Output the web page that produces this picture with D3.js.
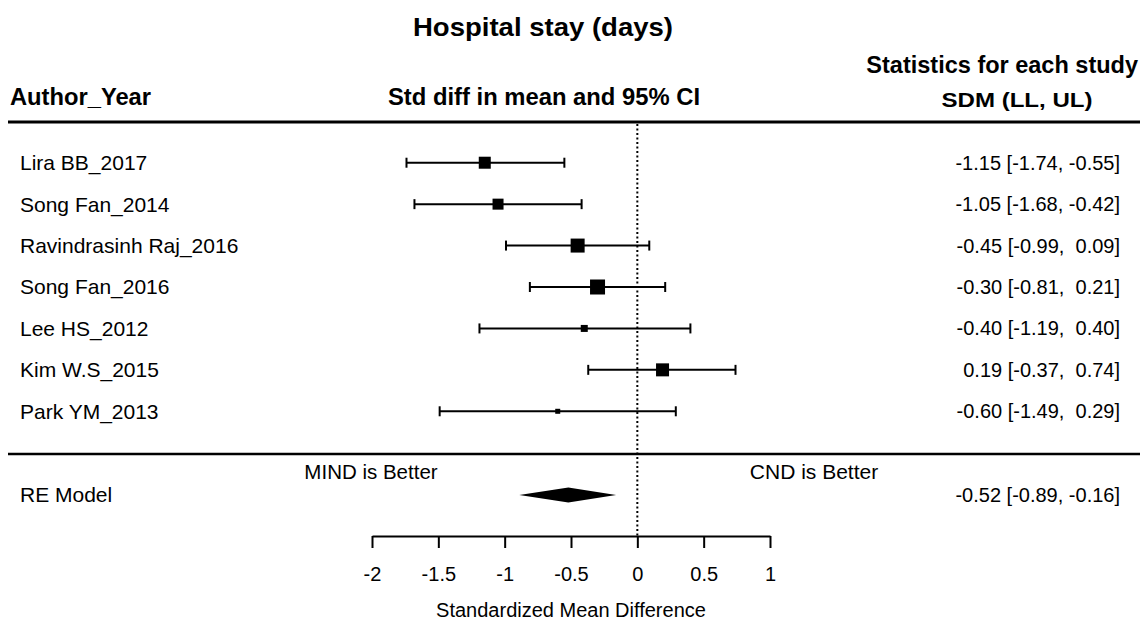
<!DOCTYPE html>
<html>
<head>
<meta charset="utf-8">
<script src="https://cdn.jsdelivr.net/npm/d3@7"></script>
<style>
  html, body { margin: 0; padding: 0; background: #fff; }
  svg text { font-family: "Liberation Sans", Arial, sans-serif; fill: #000; }
</style>
</head>
<body>
<svg id="chart" width="1144" height="620"></svg>
<script>
// ---- data ----
const studies = ["Lira BB_2017", "Song Fan_2014", "Ravindrasinh Raj_2016", "Song Fan_2016", "Lee HS_2012", "Kim W.S_2015", "Park YM_2013"];
const smd   = [-1.15, -1.05, -0.45, -0.30, -0.40, 0.19, -0.60];
const lower = [-1.74, -1.68, -0.99, -0.81, -1.19, -0.37, -1.49];
const upper = [-0.55, -0.42, 0.09, 0.21, 0.40, 0.74, 0.29];
const weights = [12, 11, 14, 15, 7, 13, 5];   // relative study weights (box size)
const pooled = { label: "RE Model", est: -0.52, lo: -0.89, hi: -0.16 };
const tickValues = [-2, -1.5, -1, -0.5, 0, 0.5, 1];
const tickLabels = ["-2", "-1.5", "-1", "-0.5", "0", "0.5", "1"];

const fmt = v => (v < 0 ? "-" : "") + Math.abs(v).toFixed(2);
const fmtCI = (e, l, u) => `${e < 0 ? "" : " "}${fmt(e)} [${fmt(l)}, ${u < 0 ? "" : " "}${fmt(u)}]`;

// ---- layout ----
const svg = d3.select("#chart");
const x = d3.scaleLinear().domain([-2, 1]).range([372, 770]);
const y = d3.scaleBand().domain(studies).range([142, 432]).paddingInner(0).paddingOuter(0);
const boxSize = d3.scaleLinear().domain([0, 15]).range([0, 15]);
const rowY = s => y(s) + y.bandwidth() / 2;
const yPooled = 495;
const axisY = 536;

// title & headers
svg.append("text").attr("x", 543).attr("y", 36).attr("text-anchor", "middle")
  .attr("font-size", 25.5).attr("font-weight", "bold")
  .attr("textLength", 260).attr("lengthAdjust", "spacingAndGlyphs").text("Hospital stay (days)");
svg.append("text").attr("x", 1138).attr("y", 73).attr("text-anchor", "end")
  .attr("font-size", 23.5).attr("font-weight", "bold").text("Statistics for each study");
svg.append("text").attr("x", 10).attr("y", 105)
  .attr("font-size", 24).attr("font-weight", "bold")
  .attr("textLength", 141).attr("lengthAdjust", "spacingAndGlyphs").text("Author_Year");
svg.append("text").attr("x", 544).attr("y", 105).attr("text-anchor", "middle")
  .attr("font-size", 24).attr("font-weight", "bold")
  .attr("textLength", 312).attr("lengthAdjust", "spacingAndGlyphs").text("Std diff in mean and 95% CI");
svg.append("text").attr("x", 1017).attr("y", 106.5).attr("text-anchor", "middle")
  .attr("font-size", 20).attr("font-weight", "bold")
  .attr("textLength", 151).attr("lengthAdjust", "spacingAndGlyphs").text("SDM (LL, UL)");

// horizontal rules
svg.append("line").attr("x1", 8).attr("x2", 1140).attr("y1", 122).attr("y2", 122)
  .attr("stroke", "#000").attr("stroke-width", 3);
svg.append("line").attr("x1", 8).attr("x2", 1140).attr("y1", 454).attr("y2", 454)
  .attr("stroke", "#000").attr("stroke-width", 2.5);

// reference (zero) line
svg.append("line").attr("x1", x(0)).attr("x2", x(0)).attr("y1", 124).attr("y2", axisY)
  .attr("stroke", "#000").attr("stroke-width", 2).attr("stroke-dasharray", "2,2.5");

// study rows
const rows = svg.append("g").selectAll("g").data(studies).join("g")
  .attr("transform", s => `translate(0,${rowY(s)})`);

rows.append("text").attr("x", 20).attr("y", 0).attr("dy", "0.35em")
  .attr("font-size", 21).text(s => s);

rows.append("line").attr("x1", (s, i) => x(lower[i])).attr("x2", (s, i) => x(upper[i]))
  .attr("y1", 0).attr("y2", 0).attr("stroke", "#000").attr("stroke-width", 2);
rows.append("line").attr("x1", (s, i) => x(lower[i])).attr("x2", (s, i) => x(lower[i]))
  .attr("y1", -5).attr("y2", 5).attr("stroke", "#000").attr("stroke-width", 2);
rows.append("line").attr("x1", (s, i) => x(upper[i])).attr("x2", (s, i) => x(upper[i]))
  .attr("y1", -5).attr("y2", 5).attr("stroke", "#000").attr("stroke-width", 2);
rows.append("rect")
  .attr("x", (s, i) => x(smd[i]) - boxSize(weights[i]) / 2)
  .attr("y", (s, i) => -boxSize(weights[i]) / 2)
  .attr("width", (s, i) => boxSize(weights[i]))
  .attr("height", (s, i) => boxSize(weights[i]))
  .attr("fill", "#000");

rows.append("text").attr("x", 1120).attr("y", 0).attr("dy", "0.35em").attr("text-anchor", "end")
  .attr("font-size", 20).style("white-space", "pre")
  .text((s, i) => fmtCI(smd[i], lower[i], upper[i]));

// pooled
svg.append("text").attr("x", 20).attr("y", yPooled).attr("dy", "0.35em")
  .attr("font-size", 21).text(pooled.label);
svg.append("path")
  .attr("d", `M${x(pooled.lo)},${yPooled} L${x(pooled.est)},${yPooled - 7.5} L${x(pooled.hi)},${yPooled} L${x(pooled.est)},${yPooled + 7.5} Z`)
  .attr("fill", "#000");
svg.append("text").attr("x", 1120).attr("y", yPooled).attr("dy", "0.35em").attr("text-anchor", "end")
  .attr("font-size", 20).style("white-space", "pre")
  .text(fmtCI(pooled.est, pooled.lo, pooled.hi));

svg.append("text").attr("x", 371).attr("y", 479).attr("text-anchor", "middle")
  .attr("font-size", 20.5).text("MIND is Better");
svg.append("text").attr("x", 814).attr("y", 479).attr("text-anchor", "middle")
  .attr("font-size", 21).text("CND is Better");

// axis
const axis = d3.axisBottom(x).tickValues(tickValues)
  .tickFormat((d, i) => tickLabels[i]).tickSize(12).tickSizeOuter(0).tickPadding(19);
const ag = svg.append("g").attr("transform", `translate(0,${axisY})`).call(axis);
ag.select(".domain").attr("stroke-width", 2);
ag.selectAll(".tick line").attr("stroke-width", 2);
ag.selectAll(".tick text").attr("font-size", 20).attr("font-family", "Liberation Sans, Arial, sans-serif");

svg.append("text").attr("x", x(-0.5)).attr("y", 617).attr("text-anchor", "middle")
  .attr("font-size", 20).text("Standardized Mean Difference");
</script>
</body>
</html>
